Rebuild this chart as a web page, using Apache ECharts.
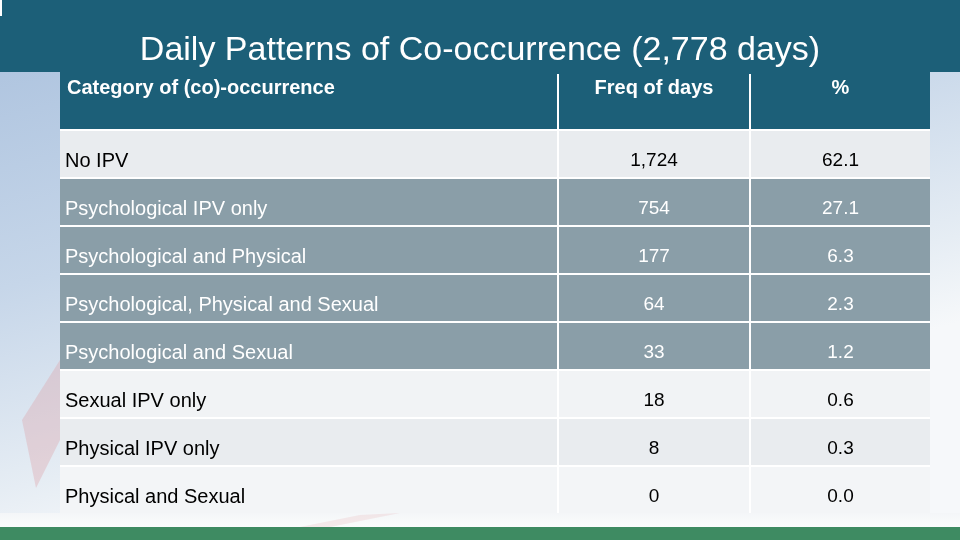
<!DOCTYPE html>
<html>
<head>
<meta charset="utf-8">
<script src="https://cdn.jsdelivr.net/npm/echarts@6/dist/echarts.min.js"></script>
<style>html,body{margin:0;padding:0;background:#fff}#c{width:960px;height:540px}</style>
</head>
<body>
<div id="c"></div>
<script>
// ---- data ----
const titleText = 'Daily Patterns of Co-occurrence (2,778 days)';
const headers = ['Category of (co)-occurrence', 'Freq of days', '%'];
const categories = ['No IPV', 'Psychological IPV only', 'Psychological and Physical',
  'Psychological, Physical and Sexual', 'Psychological and Sexual', 'Sexual IPV only',
  'Physical IPV only', 'Physical and Sexual'];
const freqDays = [1724, 754, 177, 64, 33, 18, 8, 0];
const percents = [62.1, 27.1, 6.3, 2.3, 1.2, 0.6, 0.3, 0.0];

// ---- styles ----
const rowFill = ['#e9ecef', '#8a9ea8', '#8a9ea8', '#8a9ea8', '#8a9ea8', '#f1f3f5', '#e9ecef', '#f3f5f7'];
const rowText = ['#000', '#fff', '#fff', '#fff', '#fff', '#000', '#000', '#000'];
const teal = '#1c5f78';
const FONT = 'Liberation Sans, Arial, sans-serif';

const columns = [
  categories,
  freqDays.map(v => v.toLocaleString('en-US')),
  percents.map(v => v.toFixed(1))
];
const gridDefs = [
  {left: 60, width: 497, align: 'left', size: 20},
  {left: 559, width: 190, align: 'center', size: 19},
  {left: 751, width: 179, align: 'center', size: 19}
];

const chart = echarts.init(document.getElementById('c'), null, {renderer: 'canvas'});

const grids = gridDefs.map(g => ({left: g.left, width: g.width, top: 129, height: 384}));
const xAxes = gridDefs.map((g, i) => ({type: 'value', gridIndex: i, min: 0, max: 1, show: false}));
const yAxes = gridDefs.map((g, i) => ({type: 'category', gridIndex: i, data: categories, inverse: true, show: false}));

const series = gridDefs.map((g, ci) => ({
  type: 'custom',
  xAxisIndex: ci,
  yAxisIndex: ci,
  encode: {x: 0, y: 1},
  data: columns[ci].map((txt, ri) => [0, ri, txt]),
  renderItem: function (params, api) {
    const ri = api.value(1);
    const c = api.coord([0, ri]);
    const band = api.size([0, 1])[1];
    const cs = params.coordSys;
    const top = c[1] - band / 2 + 2;
    const h = band - 2;
    const txt = columns[ci][ri];
    return {
      type: 'group',
      children: [
        {type: 'rect', shape: {x: cs.x, y: top, width: cs.width, height: h},
          style: {fill: rowFill[ri]}},
        {type: 'text', style: {
          text: txt,
          x: g.align === 'left' ? cs.x + 5 : cs.x + cs.width / 2,
          y: top + h / 2 + 7,
          textAlign: g.align, textVerticalAlign: 'middle',
          fill: rowText[ri], font: g.size + 'px ' + FONT
        }}
      ]
    };
  }
}));

const headerGraphics = gridDefs.map((g, i) => ({
  type: 'text',
  x: g.align === 'left' ? g.left + 7 : g.left + g.width / 2,
  y: 88,
  style: {
    text: headers[i], fill: '#fff', font: 'bold 20px ' + FONT,
    textAlign: g.align, textVerticalAlign: 'middle'
  },
  z: 10
}));

chart.setOption({
  animation: false,
  backgroundColor: {
    type: 'linear', x: 0, y: 0, x2: 0.15, y2: 1,
    colorStops: [
      {offset: 0, color: '#a9c0dd'},
      {offset: 0.5, color: '#c6d6e9'},
      {offset: 0.85, color: '#e6edf4'},
      {offset: 1, color: '#f6f8fa'}
    ]
  },
  graphic: [
    {type: 'polygon', shape: {points: [[22, 420], [60, 360], [60, 440], [36, 488]]},
      style: {fill: 'rgba(220,160,165,0.35)'}, z: 0},
    {type: 'rect', shape: {x: 0, y: 513, width: 960, height: 14},
      style: {fill: {type: 'linear', x: 0, y: 0, x2: 0, y2: 1,
        colorStops: [{offset: 0, color: '#f4f6f8'}, {offset: 1, color: '#fbfcfc'}]}}, z: 0},
    {type: 'polygon', shape: {points: [[300, 527], [360, 515], [400, 513], [330, 527]]},
      style: {fill: 'rgba(230,180,185,0.25)'}, z: 1},
    {type: 'rect', shape: {x: 0, y: 527, width: 960, height: 13}, style: {fill: '#3e8b62'}, z: 1},
    {type: 'rect', shape: {x: 0, y: 0, width: 960, height: 72}, style: {fill: teal}, z: 1},
    {type: 'rect', shape: {x: 0, y: 0, width: 2, height: 16}, style: {fill: '#ffffff'}, z: 2},
    {type: 'rect', shape: {x: 60, y: 72, width: 870, height: 57}, style: {fill: teal}, z: 1},
    {type: 'rect', shape: {x: 557, y: 74, width: 2, height: 55}, style: {fill: '#ffffff'}, z: 2},
    {type: 'rect', shape: {x: 749, y: 74, width: 2, height: 55}, style: {fill: '#ffffff'}, z: 2},
    {type: 'rect', shape: {x: 60, y: 129, width: 870, height: 384}, style: {fill: '#ffffff'}, z: 1},
    {type: 'text', x: 480, y: 51, style: {text: titleText, fill: '#fff', font: '34px ' + FONT,
      textAlign: 'center', textVerticalAlign: 'middle'}, z: 10}
  ].concat(headerGraphics),
  grid: grids,
  xAxis: xAxes,
  yAxis: yAxes,
  series: series
});
</script>
</body>
</html>
